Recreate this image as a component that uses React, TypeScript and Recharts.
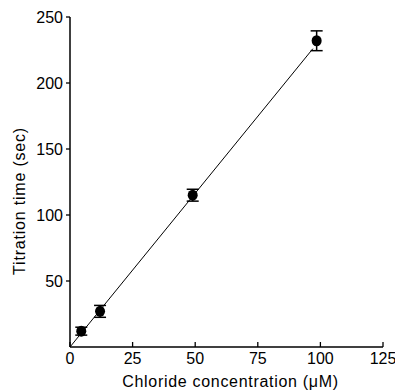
import React from "react";
import { ComposedChart, Scatter, XAxis, YAxis, ErrorBar, Label } from "recharts";

const concentration = [4.5, 12, 49, 98.5];
const titrationTime = [12, 27, 115, 232];
const errors = [3, 4.5, 4.5, 7.5];

const fitX = [0, 97];
const fitY = [0, 226];

const xTicks = [0, 25, 50, 75, 100, 125];
const yTicks = [50, 100, 150, 200, 250];

const xLabel = "Chloride concentration (μM)";
const yLabel = "Titration time (sec)";

const points = concentration.map((x, i) => ({ x, y: titrationTime[i], err: errors[i] }));
const fit = fitX.map((x, i) => ({ x, y: fitY[i] }));

const FONT = "'Liberation Sans', Arial, sans-serif";

const XTick = (props: any) => {
  const { x, y, payload } = props;
  return (
    <g>
      <line x1={x} x2={x} y1={y} y2={y - 5} stroke="#000" strokeWidth={1.3} />
      <text x={x} y={y + 17} textAnchor="middle" fontFamily={FONT} fontSize={16} fill="#000">
        {payload.value}
      </text>
    </g>
  );
};

const Dot = (props: any) => {
  const { cx, cy } = props;
  return <ellipse cx={cx} cy={cy} rx={5} ry={5.5} fill="#000" />;
};

const Empty = () => <g />;

const XLabelContent = (props: any) => {
  const { viewBox } = props;
  const cx = viewBox.x + viewBox.width / 2 + 4;
  const by = viewBox.y + viewBox.height - 4;
  return (
    <text x={cx} y={by} textAnchor="middle" fontFamily={FONT} fontSize={16} letterSpacing={0.7} fill="#000">
      {xLabel}
    </text>
  );
};

const YLabelContent = (props: any) => {
  const { viewBox } = props;
  const x = viewBox.x + 9;
  const y = viewBox.y + viewBox.height / 2 + 19;
  return (
    <text
      x={x}
      y={y}
      transform={`rotate(-90, ${x}, ${y})`}
      textAnchor="middle"
      dominantBaseline="central"
      fontFamily={FONT}
      fontSize={16}
      letterSpacing={0.8}
      fill="#000"
    >
      {yLabel}
    </text>
  );
};

export default function App() {
  return (
    <div style={{ position: "absolute", left: 0, top: 0, background: "#fff" }}>
      <ComposedChart
        width={395}
        height={391}
        margin={{ top: 17, right: 12, bottom: 0, left: 10 }}
      >
        <XAxis
          type="number"
          dataKey="x"
          domain={[0, 125]}
          ticks={xTicks}
          tickSize={0}
          tickMargin={0}
          tick={<XTick />}
          height={44}
          axisLine={{ stroke: "#000", strokeWidth: 1.5 }}
          allowDataOverflow
        >
          <Label content={<XLabelContent />} />
        </XAxis>
        <YAxis
          type="number"
          dataKey="y"
          domain={[0, 250]}
          ticks={yTicks}
          tickSize={4}
          tickMargin={3}
          width={60}
          axisLine={{ stroke: "#000", strokeWidth: 1.5 }}
          tickLine={{ stroke: "#000", strokeWidth: 1.3 }}
          tick={{ fontFamily: FONT, fontSize: 16, fill: "#000" }}
          allowDataOverflow
        >
          <Label content={<YLabelContent />} />
        </YAxis>
        <Scatter
          data={fit}
          line={{ stroke: "#000", strokeWidth: 1 }}
          shape={<Empty />}
          isAnimationActive={false}
        />
        <Scatter data={points} fill="#000" shape={<Dot />} isAnimationActive={false}>
          <ErrorBar dataKey="err" direction="y" width={6} stroke="#000" strokeWidth={1.5} />
        </Scatter>
      </ComposedChart>
    </div>
  );
}
